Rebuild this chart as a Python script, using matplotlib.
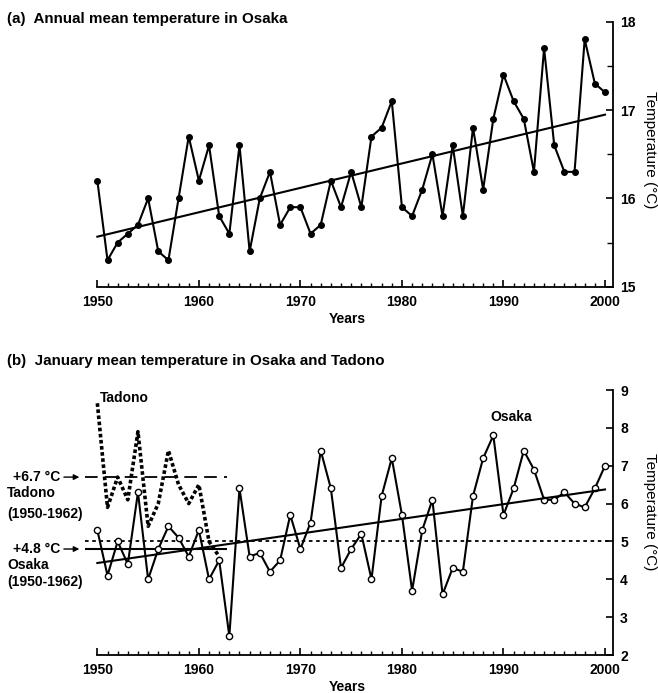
import matplotlib.pyplot as plt
import numpy as np

plt.rcParams['font.family'] = ['Liberation Sans', 'DejaVu Sans']

years = np.arange(1950, 2001)

# (a) annual mean temperature, Osaka
annual_osaka = [16.2, 15.3, 15.5, 15.6, 15.7, 16.0, 15.4, 15.3, 16.0, 16.7,
                16.2, 16.6, 15.8, 15.6, 16.6, 15.4, 16.0, 16.3, 15.7, 15.9,
                15.9, 15.6, 15.7, 16.2, 15.9, 16.3, 15.9, 16.7, 16.8, 17.1,
                15.9, 15.8, 16.1, 16.5, 15.8, 16.6, 15.8, 16.8, 16.1, 16.9,
                17.4, 17.1, 16.9, 16.3, 17.7, 16.6, 16.3, 16.3, 17.8, 17.3,
                17.2]

# (b) January mean temperature, Osaka and Tadono
jan_osaka = [5.3, 4.1, 5.0, 4.4, 6.3, 4.0, 4.8, 5.4, 5.1, 4.6,
             5.3, 4.0, 4.5, 2.5, 6.4, 4.6, 4.7, 4.2, 4.5, 5.7,
             4.8, 5.5, 7.4, 6.4, 4.3, 4.8, 5.2, 4.0, 6.2, 7.2,
             5.7, 3.7, 5.3, 6.1, 3.6, 4.3, 4.2, 6.2, 7.2, 7.8,
             5.7, 6.4, 7.4, 6.9, 6.1, 6.1, 6.3, 6.0, 5.9, 6.4,
             7.0]
tadono_years = np.arange(1950, 1963)
jan_tadono = [8.65, 5.9, 6.7, 6.1, 7.9, 5.4, 6.0, 7.4, 6.5, 6.0, 6.5, 5.0, 4.6]

osaka_mean = 4.8    # 1950-1962
tadono_mean = 6.7   # 1950-1962
ref_level = 5.0

XMIN, XMAX = 1948.5, 2000.8
FS = 10

fig = plt.figure(figsize=(6.58, 6.93), dpi=100)
ax1 = fig.add_axes([0.1248, 0.5863, 0.807, 0.3824])
ax2 = fig.add_axes([0.1248, 0.0548, 0.807, 0.3824])


def style_axes(ax):
    ax.set_xlim(XMIN, XMAX)
    for s in ['left', 'top']:
        ax.spines[s].set_visible(False)
    for s in ['right', 'bottom']:
        ax.spines[s].set_linewidth(1.3)
    ax.spines['bottom'].set_bounds(1950, XMAX)
    ax.yaxis.tick_right()
    ax.set_xticks(np.arange(1950, 2001, 10))
    ax.set_xticks(np.arange(1950, 2001, 1), minor=True)
    ax.tick_params(axis='x', which='major', direction='in', length=5, width=1.2, pad=6)
    ax.tick_params(axis='x', which='minor', direction='in', length=3, width=1.0)
    ax.tick_params(axis='y', which='major', direction='in', length=5, width=1.2, pad=5)
    ax.tick_params(axis='y', which='minor', direction='in', length=4, width=1.0)
    for lab in ax.get_xticklabels() + ax.get_yticklabels():
        lab.set_fontweight('bold')
        lab.set_fontsize(FS)
    ax.set_xlabel('Years', fontweight='bold', fontsize=FS, labelpad=2)


# ---- panel (a)
ax1.plot(years, annual_osaka, color='k', lw=1.5, marker='o', ms=4)
k1 = np.polyfit(years, annual_osaka, 1)
ax1.plot([1950, 2000], np.polyval(k1, [1950, 2000]), color='k', lw=1.5)
ax1.set_ylim(15, 18)
ax1.set_yticks([15, 16, 17, 18])
ax1.set_yticks([15.5, 16.5, 17.5], minor=True)
style_axes(ax1)

# ---- panel (b)
ax2.hlines(ref_level, 1948.8, XMAX, colors='k', lw=1.3, linestyles=(0, (2, 2)))
ax2.hlines(tadono_mean, 1948.8, 1962.8, colors='k', lw=1.3, linestyles=(0, (7, 4)))
ax2.hlines(osaka_mean, 1948.8, 1962.8, colors='k', lw=1.5)
ax2.plot(tadono_years, jan_tadono, color='k', lw=2.6, linestyle=(0, (1, 0.7)))
ax2.plot(years, jan_osaka, color='k', lw=1.5, marker='o', ms=4.5,
         mfc='white', mec='k', mew=1.0)
k2 = np.polyfit(years, jan_osaka, 1)
ax2.plot([1950, 2000], np.polyval(k2, [1950, 2000]), color='k', lw=1.5)
ax2.set_ylim(2, 9)
ax2.set_yticks(np.arange(2, 10))
style_axes(ax2)

ax2.text(1950.2, 8.78, 'Tadono', fontweight='bold', fontsize=FS, ha='left', va='center')
ax2.text(1990.8, 8.29, 'Osaka', fontweight='bold', fontsize=FS, ha='center', va='center')

tr = ax2.get_yaxis_transform()
for val in [tadono_mean, osaka_mean]:
    ax2.text(-0.042, val, '+%.1f °C' % val, transform=tr, ha='right', va='center',
             fontweight='bold', fontsize=FS)
    ax2.annotate('', xy=(0, val), xycoords=tr, xytext=(-21, 0), textcoords='offset pixels',
                 arrowprops=dict(arrowstyle='-|>', color='k', lw=1.0, mutation_scale=8),
                 annotation_clip=False)
ax2.text(-0.1414, 6.29, 'Tadono', transform=tr, ha='left', va='center',
         fontweight='bold', fontsize=FS)
ax2.text(-0.1414, 5.73, '(1950-1962)', transform=tr, ha='left', va='center',
         fontweight='bold', fontsize=FS)
ax2.text(-0.1414, 4.38, 'Osaka', transform=tr, ha='left', va='center',
         fontweight='bold', fontsize=FS)
ax2.text(-0.1414, 3.93, '(1950-1962)', transform=tr, ha='left', va='center',
         fontweight='bold', fontsize=FS)

# titles and side labels
fig.text(7 / 658, 1 - 23 / 693, '(a)  Annual mean temperature in Osaka',
         fontweight='bold', fontsize=10.9, ha='left', va='baseline')
fig.text(7 / 658, 1 - 365 / 693, '(b)  January mean temperature in Osaka and Tadono',
         fontweight='bold', fontsize=10.9, ha='left', va='baseline')
fig.text(650 / 658, 1 - 150 / 693, 'Temperature (°C)', rotation=-90,
         ha='center', va='center', fontsize=11)
fig.text(650 / 658, 1 - 512 / 693, 'Temperature (°C)', rotation=-90,
         ha='center', va='center', fontsize=11)

fig.savefig('out.png', dpi=100)
